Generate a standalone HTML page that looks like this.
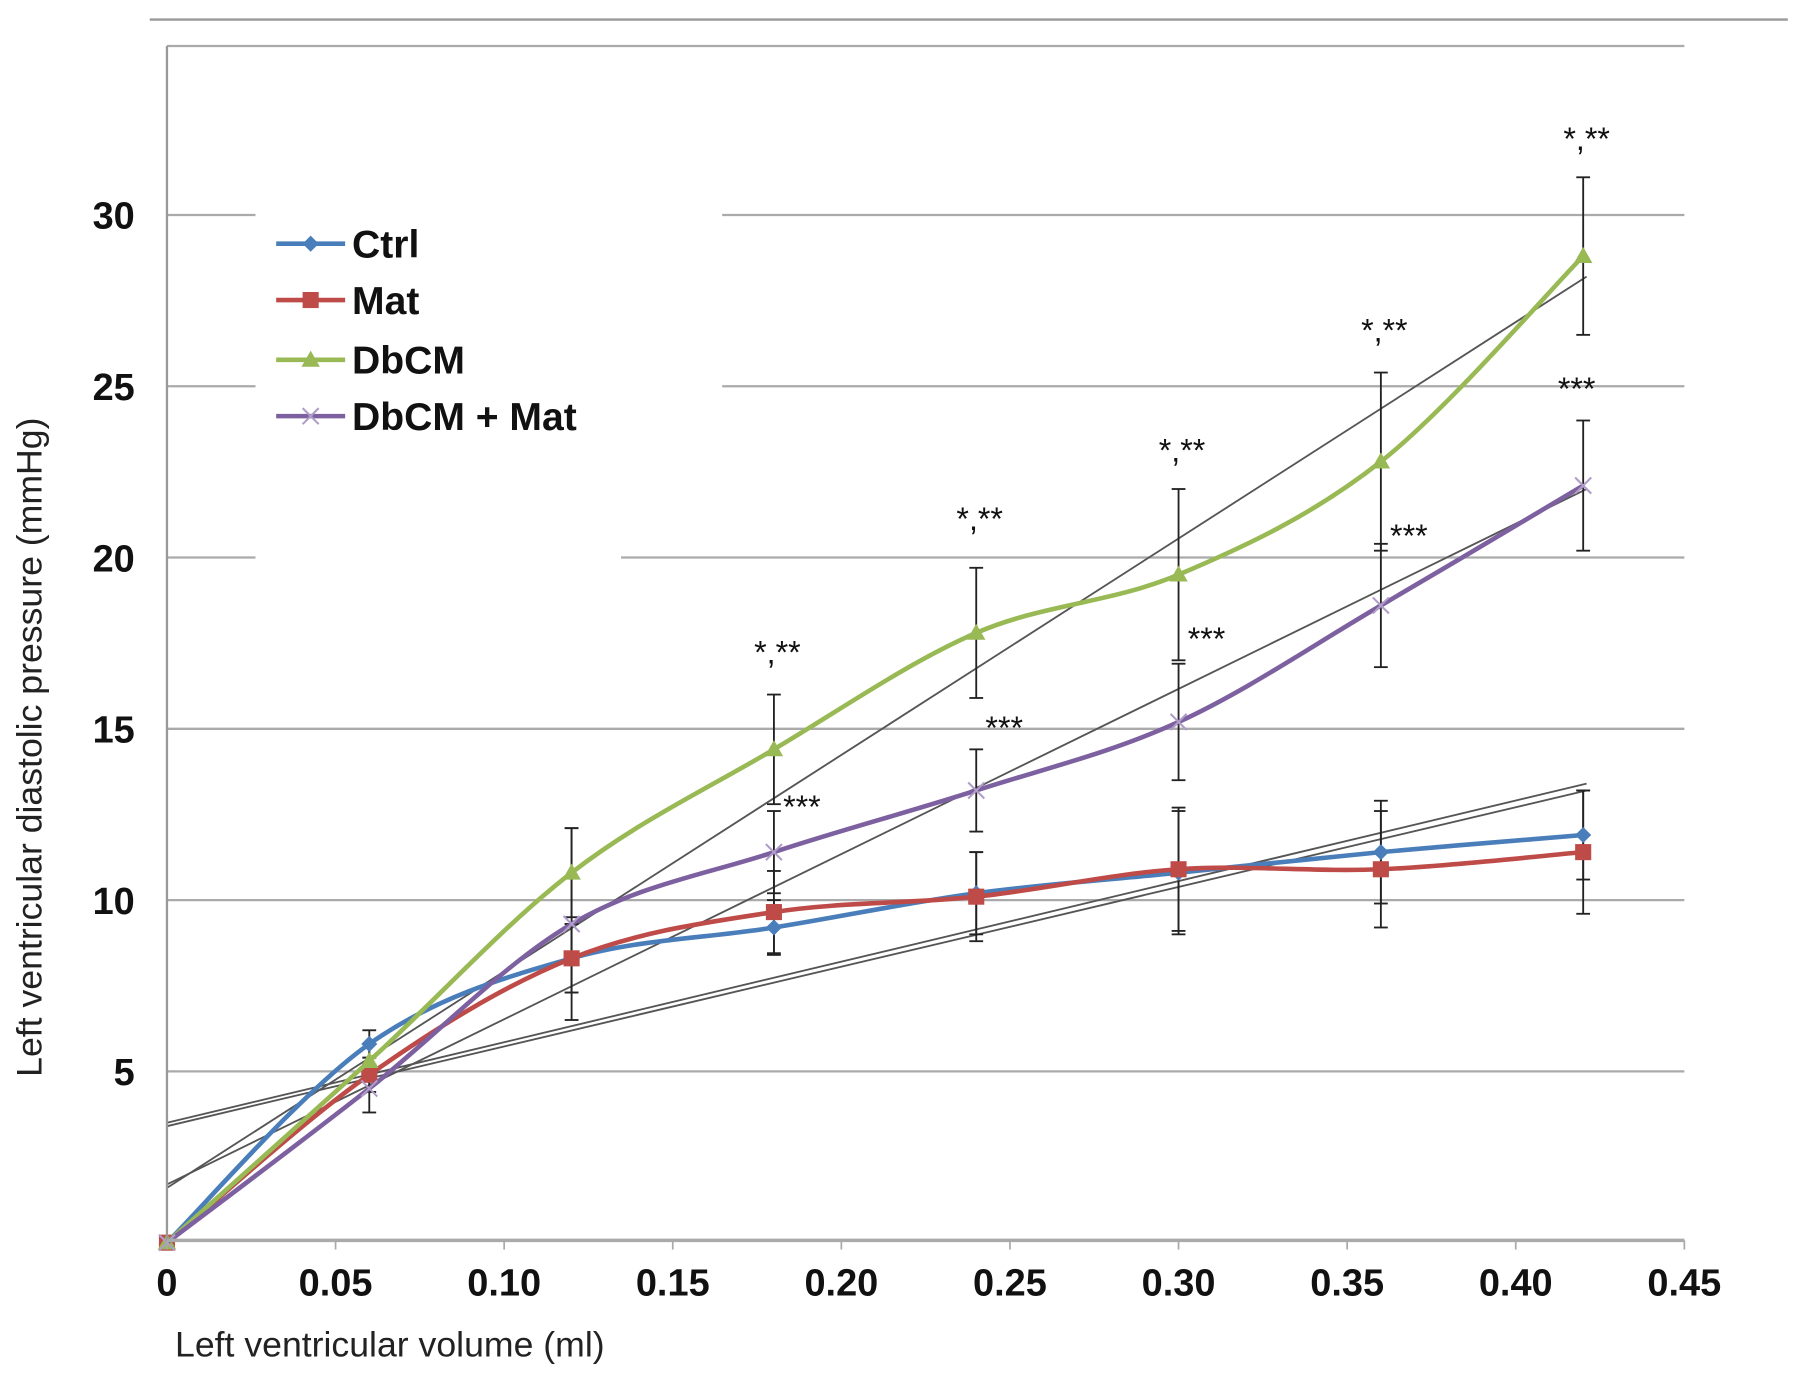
<!DOCTYPE html>
<html><head><meta charset="utf-8">
<style>
html,body{margin:0;padding:0;background:#fff;}
svg{display:block;}
text{font-family:"Liberation Sans",sans-serif;}
</style></head>
<body>
<svg id="chart" width="1795" height="1376" viewBox="0 0 1561 1197" xmlns="http://www.w3.org/2000/svg">
<line x1="130" y1="17" x2="1555" y2="17" stroke="#999" stroke-width="2"/>
<line x1="145" y1="40" x2="1465" y2="40" stroke="#aaa" stroke-width="2"/>
<g id="grid"></g>
<g id="trends"></g>
<g id="errs"></g>
<g id="series"></g>
<g id="axes"></g>
<g id="sig"></g>
<g id="legend"></g>
<text transform="translate(36,650) rotate(-90)" text-anchor="middle" font-size="31" fill="#222">Left ventricular diastolic pressure (mmHg)</text>
<text x="152" y="1180" font-size="31" fill="#222">Left ventricular volume (ml)</text>
</svg>
<script>
const volumes = [0, 0.06, 0.12, 0.18, 0.24, 0.30, 0.36, 0.42];
const ctrlValues = [0, 5.8, 8.3, 9.2, 10.2, 10.8, 11.4, 11.9];
const matValues = [0, 4.9, 8.3, 9.65, 10.1, 10.9, 10.9, 11.4];
const dbcmValues = [0, 5.3, 10.8, 14.4, 17.8, 19.5, 22.8, 28.8];
const dbcmMatValues = [0, 4.5, 9.3, 11.4, 13.2, 15.2, 18.6, 22.1];
const ctrlErr = [0, 0.4, 1.0, 0.8, 1.2, 1.8, 1.5, 1.3];
const matErr = [0, 0.5, 1.0, 1.2, 1.3, 1.8, 1.7, 1.8];
const dbcmErr = [0, 0.5, 1.3, 1.6, 1.9, 2.5, 2.6, 2.3];
const dbcmMatErr = [0, 0.7, 2.8, 1.2, 1.2, 1.7, 1.8, 1.9];
const trendStart = [3.5, 3.4, 1.6, 1.7];
const trendEnd = [13.4, 13.2, 28.2, 22.0];
const yTicks = [5, 10, 15, 20, 25, 30];
const xTicks = [0, 0.05, 0.10, 0.15, 0.20, 0.25, 0.30, 0.35, 0.40, 0.45];
const xTickLabels = ["0","0.05","0.10","0.15","0.20","0.25","0.30","0.35","0.40","0.45"];
const seriesNames = ["Ctrl","Mat","DbCM","DbCM + Mat"];
const sigX = [0.18, 0.24, 0.30, 0.36, 0.42];
const sigDbcmY = [16.9, 20.8, 22.8, 26.3, 31.9];
const sigDbcmMatY = [12.4, 14.7, 17.3, 20.3, 24.6];

const NS = "http://www.w3.org/2000/svg";
const X = v => 145 + v * 2933.3;
const Y = v => 1081 - v * 29.8;
const colors = ["#4a7ebb", "#be4b48", "#98b954", "#7d60a0"];
function mk(tag, attrs, parent) {
  const e = document.createElementNS(NS, tag);
  for (const k in attrs) e.setAttribute(k, attrs[k]);
  parent.appendChild(e);
  return e;
}
const grid = document.getElementById('grid');
yTicks.forEach(t => {
  const y = Y(t);
  let segs = [[145, 1465]];
  if (t === 30 || t === 25) segs = [[145, 222], [628, 1465]];
  if (t === 20) segs = [[145, 222], [540, 1465]];
  segs.forEach(s => {
    const l = mk('line', {x1: s[0], x2: s[1], y1: y, y2: y, stroke: '#aaa', 'stroke-width': 2}, grid);
    
    
  });
});
const axes = document.getElementById('axes');
let a = mk('line', {x1: 145, x2: 145, y1: 40, y2: 1080, stroke: '#999', 'stroke-width': 2}, axes);


a = mk('line', {x1: 145, x2: 1465, y1: 1079, y2: 1079, stroke: '#aaa', 'stroke-width': 3}, axes);


xTicks.forEach((t, i) => {
  const tk = mk('line', {x1: X(t), x2: X(t), y1: 1079, y2: 1087, stroke: '#aaa', 'stroke-width': 1.5}, axes);
  
  
  const tx = mk('text', {x: X(t), y: 1127, 'text-anchor': 'middle', 'font-size': 33, 'font-weight': 'bold', fill: '#111'}, axes);
  tx.textContent = xTickLabels[i];
  
  
});
yTicks.forEach(t => {
  const tx = mk('text', {x: 117, y: Y(t) + 12, 'text-anchor': 'end', 'font-size': 33, 'font-weight': 'bold', fill: '#111'}, axes);
  tx.textContent = String(t);
  
  
});
const trends = document.getElementById('trends');
trendStart.forEach((s, i) => {
  const l = mk('line', {x1: X(0), y1: Y(s), x2: X(0.421), y2: Y(trendEnd[i]), stroke: '#555', 'stroke-width': 1.6}, trends);
  
  
});
const errs = document.getElementById('errs');
const allVals = [ctrlValues, matValues, dbcmValues, dbcmMatValues];
const allErr = [ctrlErr, matErr, dbcmErr, dbcmMatErr];
allVals.forEach((vals, si) => {
  vals.forEach((v, i) => {
    const e = allErr[si][i];
    if (!e) return;
    const x = X(volumes[i]);
    const g = mk('g', {stroke: '#222', 'stroke-width': 1.6}, errs);
    
    
    mk('line', {x1: x, x2: x, y1: Y(v + e), y2: Y(v - e)}, g);
    mk('line', {x1: x - 6, x2: x + 6, y1: Y(v + e), y2: Y(v + e)}, g);
    mk('line', {x1: x - 6, x2: x + 6, y1: Y(v - e), y2: Y(v - e)}, g);
  });
});
function smooth(pts) {
  let d = 'M' + pts[0][0] + ',' + pts[0][1];
  for (let i = 0; i < pts.length - 1; i++) {
    const p0 = pts[i - 1] || pts[i], p1 = pts[i], p2 = pts[i + 1], p3 = pts[i + 2] || p2;
    const t = 6;
    const c1 = [p1[0] + (p2[0] - p0[0]) / t, p1[1] + (p2[1] - p0[1]) / t];
    const c2 = [p2[0] - (p3[0] - p1[0]) / t, p2[1] - (p3[1] - p1[1]) / t];
    d += ' C' + c1 + ' ' + c2 + ' ' + p2;
  }
  return d;
}
function marker(kind, x, y, c, parent) {
  let m;
  if (kind === 0) m = mk('path', {d: `M${x},${y-7} L${x+7},${y} L${x},${y+7} L${x-7},${y} Z`, fill: c}, parent);
  else if (kind === 1) m = mk('rect', {x: x - 7, y: y - 7, width: 14, height: 14, fill: c}, parent);
  else if (kind === 2) m = mk('path', {d: `M${x},${y-8} L${x+8},${y+6} L${x-8},${y+6} Z`, fill: c}, parent);
  else m = mk('path', {d: `M${x-7},${y-7} L${x+7},${y+7} M${x+7},${y-7} L${x-7},${y+7}`, stroke: '#b09cc8', 'stroke-width': 1.8, fill: 'none'}, parent);
  return m;
}
const series = document.getElementById('series');
allVals.forEach((vals, si) => {
  const g = mk('g', {}, series);
  
  
  const pts = vals.map((v, i) => [X(volumes[i]), Y(v)]);
  mk('path', {d: smooth(pts), fill: 'none', stroke: colors[si], 'stroke-width': 4}, g);
  pts.forEach(p => {
    const m = marker(si, p[0], p[1], colors[si], g);
    
    
  });
});
const sig = document.getElementById('sig');
sigX.forEach((x, i) => {
  const t1 = mk('text', {x: X(x) + 3, y: Y(sigDbcmY[i]), 'text-anchor': 'middle', 'font-size': 28, fill: '#111'}, sig);
  t1.textContent = '*,**';
  
  
  const last = i === sigX.length - 1;
  const t2 = mk('text', {x: last ? X(x) - 22 : X(x) + 8, y: Y(sigDbcmMatY[i]), 'font-size': 28, fill: '#111'}, sig);
  t2.textContent = '***';
  
  
});
const legend = document.getElementById('legend');
const legY = [212, 261, 313, 362];
seriesNames.forEach((n, i) => {
  const g = mk('g', {}, legend);
  
  
  mk('line', {x1: 240, x2: 300, y1: legY[i], y2: legY[i], stroke: colors[i], 'stroke-width': 4}, g);
  marker(i, 270, legY[i], colors[i], g);
  const t = mk('text', {x: 306, y: legY[i] + 12, 'font-size': 34, 'font-weight': 'bold', fill: '#111'}, g);
  t.textContent = n;
});
</script>
</body></html>
